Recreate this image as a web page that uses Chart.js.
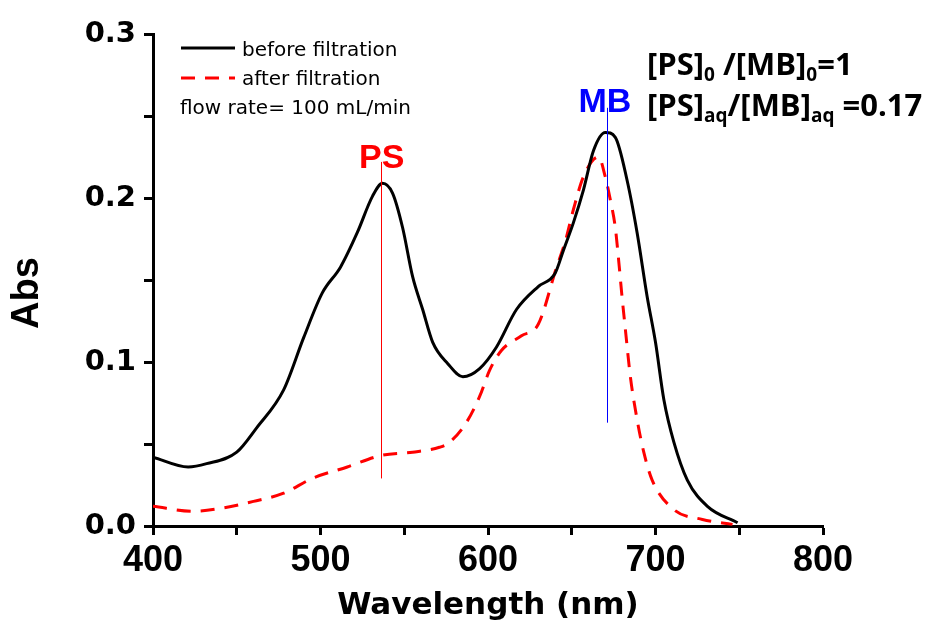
<!DOCTYPE html>
<html>
<head>
<meta charset="utf-8">
<script src="https://cdn.jsdelivr.net/npm/chart.js@4.4.0/dist/chart.umd.min.js"></script>
<style>
  html, body { margin: 0; padding: 0; background: #fff; }
  #wrap { width: 941px; height: 630px; }
</style>
</head>
<body>
<div id="wrap"><canvas id="absChart" width="941" height="630"></canvas></div>
<script>
// ====== data ======
const wlBefore = [400, 421, 432, 450, 462, 478, 490, 501, 512, 522, 531, 537, 543, 549, 555, 561, 567, 576, 585, 595, 605, 617, 630, 640, 645, 651, 657, 663, 670, 676, 683, 689, 695, 700, 705, 711, 719, 731, 749];
const absBefore = [0.042, 0.036, 0.038, 0.045, 0.060, 0.083, 0.115, 0.142, 0.158, 0.179, 0.201, 0.209, 0.203, 0.182, 0.152, 0.132, 0.112, 0.099, 0.091, 0.096, 0.109, 0.132, 0.146, 0.154, 0.168, 0.185, 0.205, 0.229, 0.240, 0.237, 0.211, 0.179, 0.140, 0.112, 0.077, 0.051, 0.028, 0.012, 0.002];

const wlAfter = [400, 424, 442, 460, 478, 495, 516, 536, 555, 571, 577, 587, 595, 601, 608, 620, 630, 641, 646, 651, 657, 666, 670, 673, 676, 678, 680, 682, 685, 689, 693, 698, 711, 728, 746];
const absAfter = [0.012, 0.009, 0.011, 0.015, 0.020, 0.029, 0.036, 0.043, 0.045, 0.048, 0.051, 0.063, 0.079, 0.095, 0.107, 0.116, 0.123, 0.158, 0.173, 0.193, 0.213, 0.225, 0.213, 0.199, 0.182, 0.162, 0.140, 0.120, 0.091, 0.065, 0.045, 0.028, 0.010, 0.004, 0.001];

const xTicks = [400, 500, 600, 700, 800];
const yTicks = [0.0, 0.1, 0.2, 0.3];

// marker lines: wavelength, from abs, to abs
const psMark = { x: 536, y0: 0.029, y1: 0.222, color: '#ff0000', label: 'PS' };
const mbMark = { x: 671, y0: 0.063, y1: 0.255, color: '#0000ff', label: 'MB' };

const toPoints = (xs, ys) => xs.map((x, i) => ({ x: x, y: ys[i] }));

// ====== overlay: y title, legend box, marker lines, ratio text ======
const overlay = {
  id: 'overlay',
  afterDatasetsDraw(chart) {
    const ctx = chart.ctx;
    const xs = chart.scales.x, ys = chart.scales.y;
    ctx.save();

    // y axis title
    ctx.save();
    ctx.translate(28, 293);
    ctx.rotate(-Math.PI / 2);
    ctx.font = 'bold 38px "Liberation Sans", Arial, sans-serif';
    ctx.fillStyle = '#000';
    ctx.textAlign = 'center';
    ctx.textBaseline = 'middle';
    ctx.fillText('Abs', 0, 0);
    ctx.restore();

    // marker lines
    [psMark, mbMark].forEach(m => {
      const px = Math.round(xs.getPixelForValue(m.x)) + 0.5;
      ctx.strokeStyle = m.color;
      ctx.lineWidth = 1;
      ctx.setLineDash([]);
      ctx.beginPath();
      ctx.moveTo(px, ys.getPixelForValue(m.y0));
      ctx.lineTo(px, ys.getPixelForValue(m.y1));
      ctx.stroke();
    });

    ctx.font = 'bold 34px "Liberation Sans", Arial, sans-serif';
    ctx.textAlign = 'center';
    ctx.textBaseline = 'alphabetic';
    ctx.fillStyle = psMark.color;
    ctx.fillText(psMark.label, xs.getPixelForValue(psMark.x) + 1, 168);
    ctx.fillStyle = mbMark.color;
    ctx.fillText(mbMark.label, xs.getPixelForValue(mbMark.x) - 2, 112);

    // legend
    ctx.lineWidth = 3;
    ctx.strokeStyle = '#000';
    ctx.beginPath();
    ctx.moveTo(181, 48); ctx.lineTo(235, 48);
    ctx.stroke();
    ctx.strokeStyle = '#ff0000';
    ctx.setLineDash([14, 10]);
    ctx.beginPath();
    ctx.moveTo(181, 78); ctx.lineTo(235, 78);
    ctx.stroke();
    ctx.setLineDash([]);

    ctx.fillStyle = '#000';
    ctx.textAlign = 'left';
    ctx.font = '20px "DejaVu Sans", sans-serif';
    ctx.fillText('before filtration', 242, 56);
    ctx.fillText('after filtration', 242, 85);
    ctx.fillText('flow rate= 100 mL/min', 180, 114);

    // ratio text with subscripts
    const big = 'bold 31px "Open Sans", "Noto Sans", sans-serif';
    const small = 'bold 19px "Open Sans", "Noto Sans", sans-serif';
    const runs = (parts, x, y) => {
      parts.forEach(p => {
        ctx.font = p[1] ? small : big;
        ctx.fillText(p[0], x, p[1] ? y + 6 : y);
        x += ctx.measureText(p[0]).width;
      });
    };
    runs([['[PS]', 0], ['0', 1], [' /[MB]', 0], ['0', 1], ['=1', 0]], 647, 75);
    runs([['[PS]', 0], ['aq', 1], ['/[MB]', 0], ['aq', 1], [' =0.17', 0]], 647, 116);

    ctx.restore();
  }
};

const absChart = new Chart(document.getElementById('absChart'), {
  type: 'line',
  data: {
    datasets: [{
      label: 'before filtration',
      data: toPoints(wlBefore, absBefore),
      borderColor: '#000',
      borderWidth: 3,
      pointRadius: 0,
      cubicInterpolationMode: 'monotone',
      fill: false
    }, {
      label: 'after filtration',
      data: toPoints(wlAfter, absAfter),
      borderColor: '#ff0000',
      borderWidth: 3,
      borderDash: [14, 10],
      pointRadius: 0,
      cubicInterpolationMode: 'monotone',
      fill: false
    }]
  },
  options: {
    responsive: false,
    animation: false,
    layout: { padding: { left: 0, right: 118, top: 34, bottom: 0 } },
    plugins: {
      legend: { display: false },
      tooltip: { enabled: false }
    },
    scales: {
      x: {
        type: 'linear',
        min: 400, max: 800,
        border: { color: '#000', width: 3 },
        grid: { drawOnChartArea: false, tickLength: 9, tickWidth: 3, tickColor: '#000' },
        ticks: {
          stepSize: 50,
          color: '#000',
          font: { family: '"Liberation Sans", Arial, sans-serif', size: 36, weight: 'bold' },
          padding: 4,
          maxRotation: 0,
          autoSkip: false,
          callback: v => xTicks.includes(v) ? String(v) : ''
        },
        title: {
          display: true,
          text: 'Wavelength (nm)',
          color: '#000',
          font: { family: '"DejaVu Sans", sans-serif', size: 31, weight: 'bold' },
          padding: { top: 0, bottom: 5 }
        },
        afterFit: s => { s.height = 104; }
      },
      y: {
        min: 0, max: 0.3,
        border: { color: '#000', width: 3 },
        grid: { drawOnChartArea: false, tickLength: 9, tickWidth: 3, tickColor: '#000' },
        ticks: {
          stepSize: 0.05,
          color: '#000',
          font: { family: '"DejaVu Sans", sans-serif', size: 29, weight: 'bold' },
          padding: 8,
          autoSkip: false,
          callback: v => {
            const r = Math.round(v * 10) / 10;
            return Math.abs(r - v) < 1e-6 && yTicks.includes(r) ? r.toFixed(1) : '';
          }
        },
        afterFit: s => { s.width = 153; }
      }
    }
  },
  plugins: [overlay]
});
</script>
</body>
</html>
